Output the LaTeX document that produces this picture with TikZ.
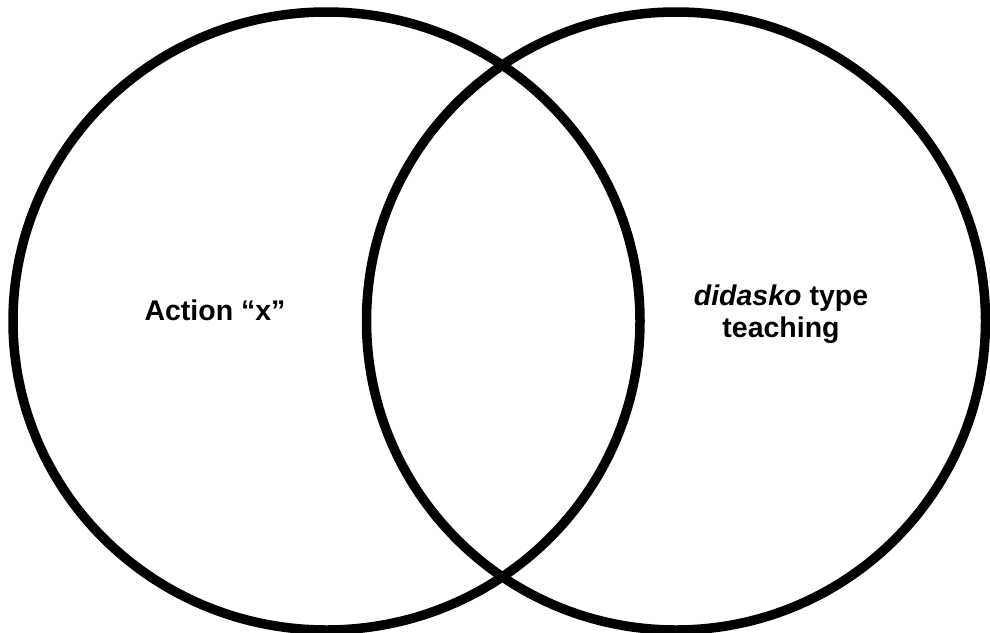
\documentclass[tikz,border=0pt]{standalone}
\usepackage{fontspec}
\setmainfont{Liberation Sans}
\begin{document}
\begin{tikzpicture}[x=1pt,y=-1pt,
  ring/.style={draw=black,line width=9.5pt},
  lbl/.style={font=\fontsize{28.5}{32}\selectfont\bfseries,inner sep=0pt,align=center,anchor=base}]
\useasboundingbox (0,0) rectangle (990,632);
\draw[ring] (326.5,321) ellipse [x radius=313.5,y radius=309];
\draw[ring] (676,321) ellipse [x radius=309.5,y radius=309];
\node[lbl] (left) at (215,320) {Action “x”};
\node[lbl] (right) at (781,337) {\itshape didasko\upshape{} type\\teaching};
\end{tikzpicture}
\end{document}
